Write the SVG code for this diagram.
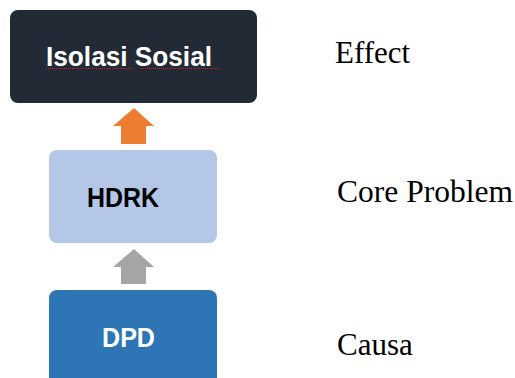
<svg xmlns="http://www.w3.org/2000/svg" width="515" height="378" viewBox="0 0 515 378">
<style>
.box{stroke:none}
.lbl{font-family:"Liberation Sans",Arial,sans-serif;font-weight:bold}
.side{font-family:"Liberation Serif","Times New Roman",serif;font-size:31px;fill:#000}
.squig{stroke:#d02020;stroke-width:1;stroke-dasharray:1 1;fill:none}
</style>
<rect width="515" height="378" fill="#fff"/>
<g id="node-isolasi">
<rect class="box" x="10" y="10" width="247" height="93" rx="8" fill="#222a35"/>
<text class="lbl" x="46" y="66" font-size="27" fill="#fff" textLength="166" lengthAdjust="spacingAndGlyphs">Isolasi Sosial</text>
<path class="squig" d="M46 68.5H133M141 68.5H221"/>
</g>
<g id="node-hdrk">
<rect class="box" x="49" y="150" width="168" height="93" rx="8" fill="#b4c7e7"/>
<text class="lbl" x="87" y="207" font-size="27.5" fill="#000" textLength="72" lengthAdjust="spacingAndGlyphs">HDRK</text>
</g>
<g id="node-dpd">
<rect class="box" x="49" y="290" width="168" height="100" rx="8" fill="#2e75b6"/>
<text class="lbl" x="102" y="347" font-size="27.5" fill="#fff" textLength="53" lengthAdjust="spacingAndGlyphs">DPD</text>
</g>
<g id="connectors">
<polygon points="134,108 154,126 146,126 146,144 121,144 121,126 113,126" fill="#ed7d31"/>
<polygon points="134,249 154,267 146,267 146,284 121,284 121,267 113,267" fill="#a5a5a5"/>
</g>
<g id="side-labels">
<text class="side" x="335" y="63" textLength="75" lengthAdjust="spacingAndGlyphs">Effect</text>
<text class="side" x="337" y="202" textLength="176" lengthAdjust="spacingAndGlyphs">Core Problem</text>
<text class="side" x="337" y="355">Causa</text>
</g>
</svg>
